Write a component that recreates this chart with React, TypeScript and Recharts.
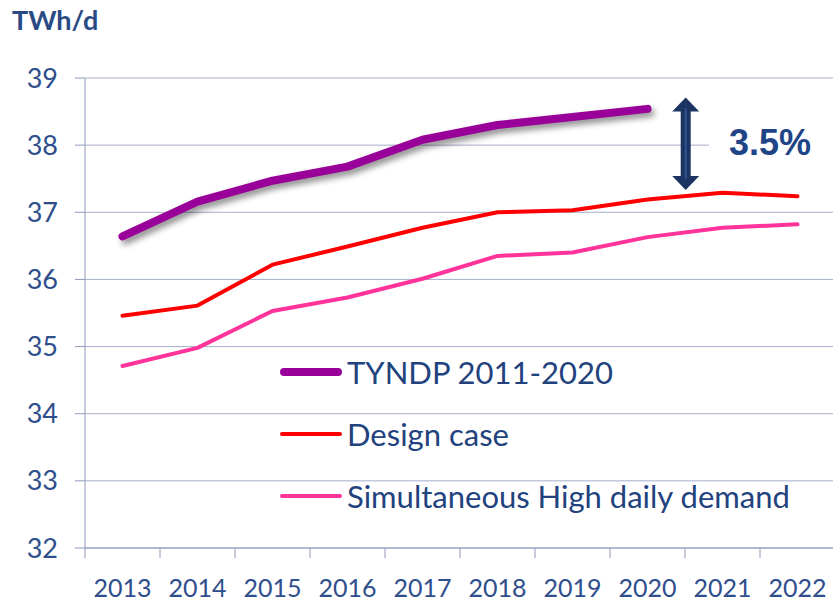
import { CartesianGrid, Legend, Line, LineChart, XAxis, YAxis } from "recharts";

const years = ["2013", "2014", "2015", "2016", "2017", "2018", "2019", "2020", "2021", "2022"];
const tyndp = [36.64, 37.16, 37.47, 37.68, 38.08, 38.3, 38.42, 38.54, null, null];
const designCase = [35.46, 35.61, 36.22, 36.49, 36.77, 37.0, 37.03, 37.19, 37.29, 37.24];
const highDaily = [34.71, 34.98, 35.53, 35.73, 36.01, 36.35, 36.4, 36.63, 36.77, 36.82];
const yTicks = [32, 33, 34, 35, 36, 37, 38, 39];

const series = [
  { key: "tyndp", name: "TYNDP 2011-2020", color: "#990099", width: 8 },
  { key: "design", name: "Design case", color: "#FF0000", width: 4 },
  { key: "high", name: "Simultaneous High daily demand", color: "#FF3399", width: 4 },
];

const data = years.map((year, i) => ({
  year,
  tyndp: tyndp[i],
  design: designCase[i],
  high: highDaily[i],
}));

const W = 833;
const H = 603;
const LEFT = 85;
const PLOT_TOP = 78;
const PLOT_BOTTOM = 548;
const RIGHT = -2;
const BAND = (W - LEFT - RIGHT) / years.length;

const font = "Lato, 'Open Sans', sans-serif";
const axisColor = "#8E9ABB";
const gridColor = "#A6AFCB";
const tickColor = "#2E4E8C";
const legendColor = "#22427E";

function XTick(props: any) {
  const { x, payload, index } = props;
  const left = x - BAND / 2;
  return (
    <g>
      <line x1={left} x2={left} y1={PLOT_BOTTOM} y2={PLOT_BOTTOM + 10} stroke={axisColor} />
      {index === years.length - 1 && (
        <line x1={left + BAND} x2={left + BAND} y1={PLOT_BOTTOM} y2={PLOT_BOTTOM + 10} stroke={axisColor} />
      )}
      <text x={x} y={PLOT_BOTTOM + 49} textAnchor="middle" fill={tickColor} fontSize={25} fontFamily={font}>
        {payload.value}
      </text>
    </g>
  );
}

function LegendBox() {
  return (
    <div style={{ fontFamily: font }}>
      {series.map((s) => (
        <div key={s.key} style={{ display: "flex", alignItems: "center", height: 62 }}>
          <svg width={68} height={20}>
            <line
              x1={s.width / 2 + 1}
              x2={63 - s.width / 2}
              y1={10}
              y2={10}
              stroke={s.color}
              strokeWidth={s.width}
              strokeLinecap="round"
            />
          </svg>
          <span style={{ fontSize: 31, color: legendColor, whiteSpace: "nowrap", lineHeight: 1 }}>{s.name}</span>
        </div>
      ))}
    </div>
  );
}

export default function App() {
  return (
    <div style={{ position: "relative", width: W, height: H, overflow: "hidden", background: "#fff" }}>
      <style>{`body{margin:0} .tyndp-shadow .recharts-line-curve{filter:drop-shadow(3px 4px 3px rgba(0,0,0,0.45));}`}</style>
      <div
        style={{
          position: "absolute",
          left: 12,
          top: 3,
          fontFamily: font,
          fontWeight: 700,
          fontSize: 27,
          color: "#2A4A85",
        }}
      >
        TWh/d
      </div>
      <LineChart
        width={W}
        height={H}
        data={data}
        margin={{ top: PLOT_TOP, right: RIGHT, bottom: 0, left: 0 }}
      >
        <CartesianGrid vertical={false} stroke={gridColor} />
        <XAxis
          dataKey="year"
          height={H - PLOT_BOTTOM}
          stroke={axisColor}
          tickLine={false}
          tick={<XTick />}
          interval={0}
          padding={{ left: BAND / 2, right: BAND / 2 }}
        />
        <YAxis
          width={LEFT}
          domain={[32, 39]}
          ticks={yTicks}
          stroke={axisColor}
          tickSize={10}
          tickMargin={17}
          tick={{ fill: tickColor, fontSize: 27, fontFamily: font }}
        />
        <Legend
          layout="vertical"
          align="center"
          verticalAlign="middle"
          content={<LegendBox />}
          wrapperStyle={{ position: "absolute", left: 279, top: 341, width: "auto" }}
        />
        <Line
          className="tyndp-shadow"
          dataKey="tyndp"
          name={series[0].name}
          stroke={series[0].color}
          strokeWidth={8}
          strokeLinecap="round"
          strokeLinejoin="round"
          dot={false}
          activeDot={false}
          isAnimationActive={false}
        />
        <Line
          dataKey="design"
          name={series[1].name}
          stroke={series[1].color}
          strokeWidth={4}
          strokeLinecap="round"
          strokeLinejoin="round"
          dot={false}
          activeDot={false}
          isAnimationActive={false}
        />
        <Line
          dataKey="high"
          name={series[2].name}
          stroke={series[2].color}
          strokeWidth={4}
          strokeLinecap="round"
          strokeLinejoin="round"
          dot={false}
          activeDot={false}
          isAnimationActive={false}
        />
      </LineChart>
      <svg width={W} height={H} style={{ position: "absolute", left: 0, top: 0, pointerEvents: "none" }}>
        <rect x={709} y={118} width={124} height={50} fill="#fff" />
        <polygon
          points="685.7,97.5 699.2,111.5 690.7,111.5 690.7,176 699.2,176 685.7,190 672.2,176 680.7,176 680.7,111.5 672.2,111.5"
          fill="#1B3461"
        />
        <line x1={685.7} x2={685.7} y1={108} y2={179} stroke="#2E5390" strokeWidth={2} />
        <text
          x={729}
          y={155}
          fontFamily="'Liberation Sans', Arial, sans-serif"
          fontWeight={700}
          fontSize={36}
          fill="#1F4587"
        >
          3.5%
        </text>
      </svg>
    </div>
  );
}
